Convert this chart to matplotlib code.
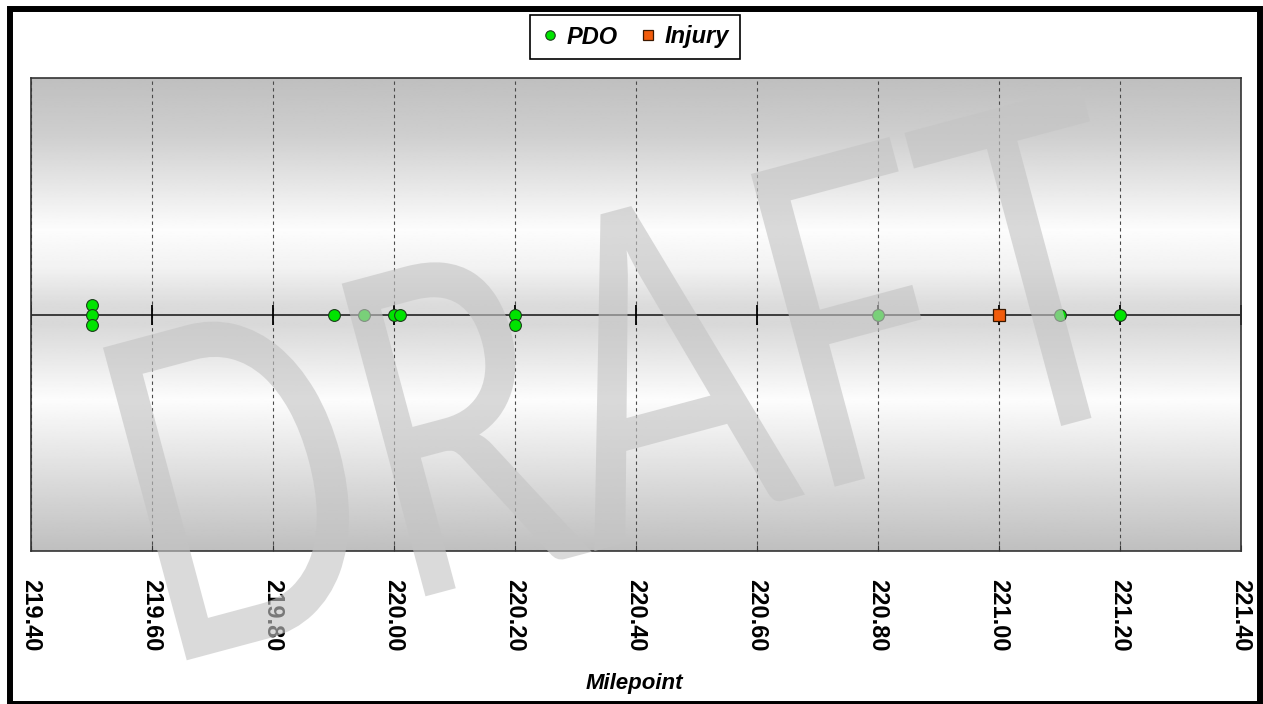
import numpy as np
import matplotlib.pyplot as plt
from matplotlib import patheffects
from matplotlib.transforms import Affine2D
from matplotlib.patches import Rectangle

# crash milepoints; "stack" is the level a marker sits at when crashes coincide
pdo_mp = [219.50, 219.50, 219.50, 219.90, 219.95, 220.00, 220.01,
          220.20, 220.20, 220.80, 221.10, 221.20]
pdo_stack = [1, 0, -1, 0, 0, 0, 0, 0, -1, 0, 0, 0]
injury_mp = [221.00]
injury_stack = [0]

tick_pos = [219.40, 219.60, 219.80, 220.00, 220.20, 220.40,
            220.60, 220.80, 221.00, 221.20, 221.40]
tick_labels = ['219.40', '219.60', '219.80', '220.00', '220.20', '220.40',
               '220.60', '220.80', '221.00', '221.20', '221.40']

FONT = 'Liberation Sans'
W, H = 1263, 704


class Stretched(patheffects.AbstractPathEffect):
    """Draw text paths stretched along the glyph's own vertical axis."""
    def __init__(self, sy):
        super().__init__()
        self._sy = sy

    def draw_path(self, renderer, gc, tpath, affine, rgbFace=None):
        renderer.draw_path(gc, tpath, Affine2D().scale(1.0, self._sy) + affine, rgbFace)


fig = plt.figure(figsize=(W / 100, H / 100), dpi=100)
ax = fig.add_axes([31 / W, 153 / H, 1210 / W, 473 / H])

# glossy grey background
prof_pos = [0.0, 0.12, 0.32, 0.40, 0.48, 0.52, 0.58, 0.68, 0.85, 1.0]
prof_val = [0.75, 0.81, 0.99, 0.95, 0.86, 0.85, 0.90, 0.99, 0.86, 0.75]
yy = np.linspace(0, 1, 400)
grad = np.interp(yy, prof_pos, prof_val)
ax.imshow(np.tile(grad[:, None], (1, 2)), cmap='gray', vmin=0, vmax=1,
          extent=(0, 1, 0, 1), transform=ax.transAxes, aspect='auto',
          origin='upper', interpolation='bilinear', zorder=0)

ax.set_xticks(tick_pos)
ax.set_xticklabels(tick_labels, rotation=270, fontsize=17,
                   fontweight='bold', family=FONT)
ax.tick_params(axis='x', direction='in', length=4, pad=20, color='#333')
ax.set_yticks([])
ax.grid(axis='x', color='#4a4a4a', linestyle=(0, (3, 3)), linewidth=0.8)

ax.axhline(0, color='#222222', lw=1.2, zorder=2)
ax.plot(tick_pos, [0] * len(tick_pos), ls='none', marker='|', ms=14,
        mew=1.3, color='black', zorder=2)

ax.plot(pdo_mp, pdo_stack, ls='none', marker='o', ms=8.5, mfc='#00e400',
        mec='#1c3d1c', mew=0.8, zorder=3, label='PDO')
ax.plot(injury_mp, injury_stack, ls='none', marker='s', ms=9, mfc='#f25c0c',
        mec='#3a1800', mew=0.9, zorder=3, label='Injury')

ax.set_xlim(219.4, 221.4)
ax.set_ylim(-23.65, 23.65)
for sp in ax.spines.values():
    sp.set_color('#333333')
    sp.set_linewidth(1.2)

fig.text(634 / W, 1 - 684 / H, 'Milepoint', ha='center', va='center',
         fontsize=16, fontweight='bold', fontstyle='italic', family=FONT)

leg = ax.legend(loc='center', bbox_to_anchor=(635 / W, 1 - 37 / H),
                bbox_transform=fig.transFigure, ncol=2, frameon=True,
                fancybox=False, edgecolor='black', framealpha=1,
                prop={'family': FONT, 'weight': 'bold', 'style': 'italic', 'size': 17},
                handletextpad=0.3, columnspacing=0.9, handlelength=0.8,
                borderpad=0.45, markerscale=0.8)
leg.get_frame().set_linewidth(1.2)

# watermark
fig.text(158 / W, 1 - 668 / H, 'DRAFT', fontsize=234, family='Lato',
         color='#c4c4c4', alpha=0.62, rotation=15, rotation_mode='anchor',
         ha='left', va='baseline', zorder=10, path_effects=[Stretched(1.39)])

fig.patches.append(Rectangle((10 / W, 0), 1250 / W, 695 / H,
                             transform=fig.transFigure, fill=False,
                             lw=4.3, ec='black', zorder=11))

fig.savefig('out.png', dpi=100)
